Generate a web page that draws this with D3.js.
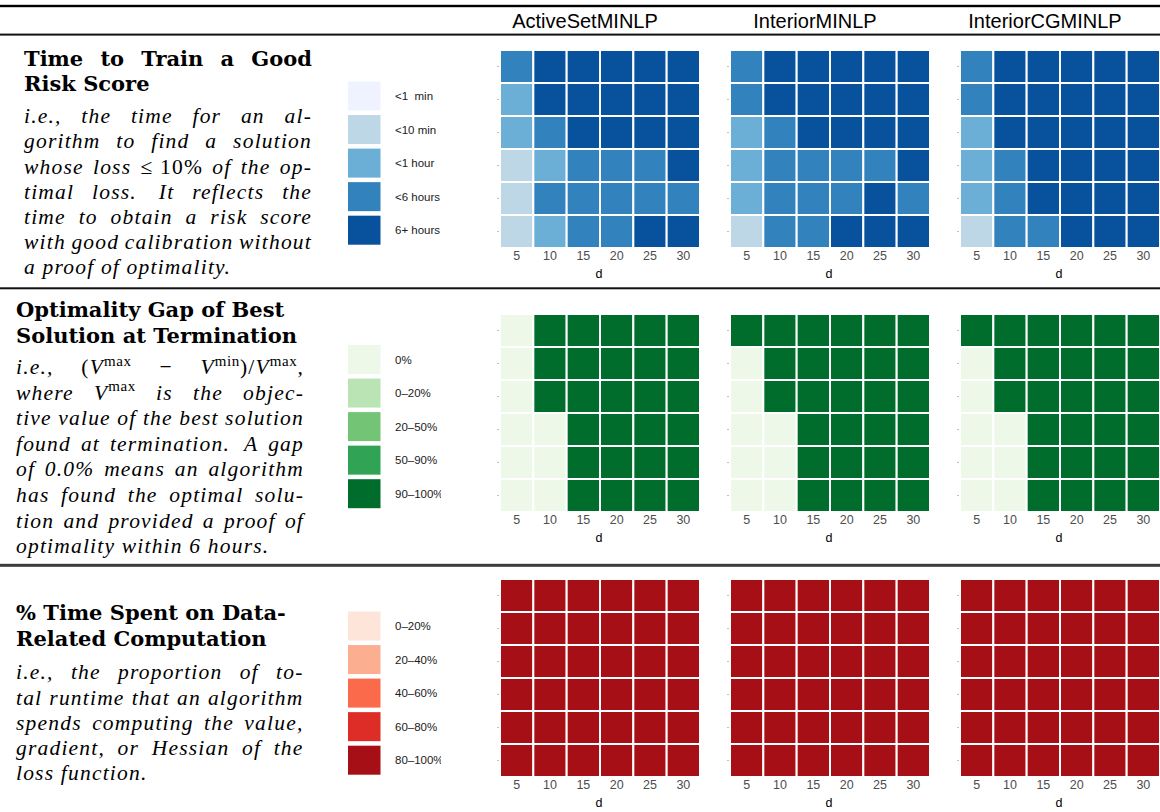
<!DOCTYPE html>
<html><head><meta charset="utf-8">
<script src="https://cdn.jsdelivr.net/npm/d3@7"></script>
<style>
body{margin:0;background:#fff}
.hdr{font-family:"Liberation Sans",Arial,sans-serif;font-size:20px;fill:#000}
.ttl{font-family:"DejaVu Serif",serif;font-weight:bold;font-size:21px;fill:#000}
.bdy{font-family:"Liberation Serif",serif;font-style:italic;font-size:21.5px;letter-spacing:1.2px;fill:#000}
.leg{font-family:"Liberation Sans",Arial,sans-serif;font-size:11.5px;fill:#1a1a1a}
.tick text{font-family:"Liberation Sans",Arial,sans-serif;font-size:12.5px;fill:#4d4d4d}
.xlab{font-family:"Liberation Sans",Arial,sans-serif;font-size:12.5px;fill:#000}
</style>
</head><body>
<svg id="c" width="1160" height="812"></svg>
<script>
// ---------------- DATA ----------------
const methods = ["ActiveSetMINLP", "InteriorMINLP", "InteriorCGMINLP"];
const dValues = [5, 10, 15, 20, 25, 30];
const rowIds = [1, 2, 3, 4, 5, 6];

const timeLabels = ["<1  min", "<10 min", "<1 hour", "<6 hours", "6+ hours"];
const gapLabels = ["0%", "0–20%", "20–50%", "50–90%", "90–100%"];
const dataLabels = ["0–20%", "20–40%", "40–60%", "60–80%", "80–100%"];

const bluesColors = ["#eff3ff", "#bdd7e7", "#6baed6", "#3182bd", "#08519c"];
const greensColors = ["#edf8e9", "#bae4b3", "#74c476", "#31a354", "#006d2c"];
const redsColors = ["#fee5d9", "#fcae91", "#fb6a4a", "#de2d26", "#a50f15"];

// level index (into the label arrays) per row (top to bottom) and d column
const timeActiveSet = [
  [3,4,4,4,4,4],
  [2,4,4,4,4,4],
  [2,3,4,4,4,4],
  [1,2,3,3,3,4],
  [1,3,3,3,3,3],
  [1,2,3,3,4,4]];
const timeInterior = [
  [3,4,4,4,4,4],
  [3,4,4,4,4,4],
  [2,3,4,4,4,4],
  [2,3,3,3,3,4],
  [2,3,3,3,4,3],
  [1,3,3,4,4,4]];
const timeInteriorCG = [
  [3,4,4,4,4,4],
  [3,4,4,4,4,4],
  [2,4,4,4,4,4],
  [2,3,4,4,4,4],
  [2,3,4,4,4,4],
  [1,3,3,4,4,4]];

const gapActiveSet = [
  [0,4,4,4,4,4],
  [0,4,4,4,4,4],
  [0,4,4,4,4,4],
  [0,0,4,4,4,4],
  [0,0,4,4,4,4],
  [0,0,4,4,4,4]];
const gapInterior = [
  [4,4,4,4,4,4],
  [0,4,4,4,4,4],
  [0,4,4,4,4,4],
  [0,0,4,4,4,4],
  [0,0,4,4,4,4],
  [0,0,4,4,4,4]];
const gapInteriorCG = [
  [4,4,4,4,4,4],
  [0,4,4,4,4,4],
  [0,4,4,4,4,4],
  [0,0,4,4,4,4],
  [0,0,4,4,4,4],
  [0,0,4,4,4,4]];

const dataActiveSet = [
  [4,4,4,4,4,4],[4,4,4,4,4,4],[4,4,4,4,4,4],
  [4,4,4,4,4,4],[4,4,4,4,4,4],[4,4,4,4,4,4]];
const dataInterior = [
  [4,4,4,4,4,4],[4,4,4,4,4,4],[4,4,4,4,4,4],
  [4,4,4,4,4,4],[4,4,4,4,4,4],[4,4,4,4,4,4]];
const dataInteriorCG = [
  [4,4,4,4,4,4],[4,4,4,4,4,4],[4,4,4,4,4,4],
  [4,4,4,4,4,4],[4,4,4,4,4,4],[4,4,4,4,4,4]];

// text: [ ] = upright, ^{ } = superscript, ~ = fixed (non-stretching) space; flag = justify
const timeTitle = [["Time to Train a Good", true], ["Risk Score", false]];
const timeBody = [
  ["i.e., the time for an al-", true],
  ["gorithm to find a solution", true],
  ["whose loss [≤]~[10%] of the op-", true],
  ["timal loss. It reflects the", true],
  ["time to obtain a risk score", true],
  ["with good calibration without", true],
  ["a proof of optimality.", false]];
const gapTitle = [["Optimality Gap of Best", false], ["Solution at Termination", false]];
const gapBody = [
  ["i.e., [(]V^{max} [−] V^{min}[)/]V^{max},", true],
  ["where V^{max} is the objec-", true],
  ["tive value of the best solution", true],
  ["found at termination. A gap", true],
  ["of 0.0% means an algorithm", true],
  ["has found the optimal solu-", true],
  ["tion and provided a proof of", true],
  ["optimality within 6 hours.", false]];
const dataTitle = [["% Time Spent on Data-", false], ["Related Computation", false]];
const dataBody = [
  ["i.e., the proportion of to-", true],
  ["tal runtime that an algorithm", true],
  ["spends computing the value,", true],
  ["gradient, or Hessian of the", true],
  ["loss function.", false]];

// ---------------- LAYOUT ----------------
const svg = d3.select("#c");
const panelX = [500, 730, 960];
const panelW = 200, panelH = 198;

const sections = [
  {top: 50, colors: bluesColors, labels: timeLabels, data: [timeActiveSet, timeInterior, timeInteriorCG],
   legTop: 81.5, textL: 24, textR: 312, titleY: [65.7, 90.7], bodyY0: 123.3, bodyDy: 25.1,
   title: timeTitle, body: timeBody},
  {top: 314, colors: greensColors, labels: gapLabels, data: [gapActiveSet, gapInterior, gapInteriorCG],
   legTop: 345, textL: 16, textR: 304, titleY: [316.7, 342.7], bodyY0: 374, bodyDy: 25.6,
   title: gapTitle, body: gapBody},
  {top: 579, colors: redsColors, labels: dataLabels, data: [dataActiveSet, dataInterior, dataInteriorCG],
   legTop: 611.5, textL: 16, textR: 303.5, titleY: [620, 645.7], bodyY0: 679.3, bodyDy: 25.2,
   title: dataTitle, body: dataBody}
];

// rules
svg.append("rect").attr("x",0).attr("y",4.8).attr("width",1160).attr("height",2.4).attr("fill","#000");
svg.append("rect").attr("x",0).attr("y",33.6).attr("width",1160).attr("height",2).attr("fill","#111");
svg.append("rect").attr("x",0).attr("y",287.3).attr("width",1160).attr("height",2).attr("fill","#111");
svg.append("rect").attr("x",0).attr("y",563.8).attr("width",1160).attr("height",3).attr("fill","#3c3c3c");

// headers
methods.forEach((m,i)=>{
  svg.append("text").attr("class","hdr").attr("x",panelX[i]+85).attr("y",28.3)
    .attr("text-anchor","middle").text(m);
});

const x = d3.scaleBand().domain(dValues).range([0, panelW]);
const y = d3.scaleBand().domain(rowIds).range([0, panelH]);

sections.forEach(sec=>{
  sec.data.forEach((mat, pi)=>{
    const g = svg.append("g").attr("transform",`translate(${panelX[pi]},${sec.top})`);
    const cells = [];
    mat.forEach((row, ri)=>row.forEach((v, ci)=>cells.push({r: rowIds[ri], d: dValues[ci], v})));
    g.selectAll("rect").data(cells).join("rect")
      .attr("x", c=>x(c.d)).attr("y", c=>y(c.r))
      .attr("width", x.bandwidth()).attr("height", y.bandwidth())
      .attr("fill", c=>sec.colors[c.v])
      .attr("stroke","#fff").attr("stroke-width",2);
    const xa = g.append("g").attr("transform",`translate(0,${panelH})`)
      .call(d3.axisBottom(x).tickSize(0).tickPadding(3.2));
    xa.select(".domain").remove();
    const ya = g.append("g").attr("transform","translate(-1,0)")
      .call(d3.axisLeft(y).tickSize(2).tickFormat(""));
    ya.select(".domain").remove();
    ya.selectAll("line").attr("stroke","#b0b0b0").attr("stroke-width",0.8);
    g.append("text").attr("class","xlab").attr("x",panelW/2-1).attr("y",panelH+29.7)
      .attr("text-anchor","middle").text("d");
  });

  // legend
  const lg = svg.append("g");
  const ly = d3.scaleBand().domain(d3.range(sec.labels.length)).range([sec.legTop, sec.legTop + 5*33.55]);
  lg.selectAll("rect").data(sec.labels).join("rect")
    .attr("x",348).attr("y",(d,i)=>ly(i)).attr("width",32.5).attr("height",29)
    .attr("fill",(d,i)=>sec.colors[i]);
  const clipId = "clip"+sec.top;
  svg.append("clipPath").attr("id",clipId).append("rect").attr("x",390).attr("y",0).attr("width",51).attr("height",812);
  lg.append("g").attr("clip-path",`url(#${clipId})`).selectAll("text").data(sec.labels).join("text")
    .attr("class","leg").attr("x",395).attr("y",(d,i)=>ly(i)+14.5+4.2)
    .style("white-space","pre").attr("xml:space","preserve").text(d=>d);

  // text blocks
  drawLines(sec.title, "ttl", sec.textL, sec.textR, i=>sec.titleY[i]);
  drawLines(sec.body, "bdy", sec.textL, sec.textR, i=>sec.bodyY0 + i*sec.bodyDy);
});

function parseWord(w){
  const segs=[]; const re=/\[([^\]]*)\]|\^\{([^}]*)\}|([^\[\^]+)/g; let m;
  while((m=re.exec(w))){
    if(m[1]!==undefined) segs.push({t:m[1],s:'r'});
    else if(m[2]!==undefined) segs.push({t:m[2],s:'sup'});
    else segs.push({t:m[3],s:'n'});
  }
  return segs.map(s=>({t:s.t.replace(/~/g,"\u00a0"), s:s.s}));
}

function drawLines(lines, cls, L, R, yOf){
  const g = svg.append("g");
  const sp = g.append("text").attr("class",cls).text("a\u00a0a");
  const spa = g.append("text").attr("class",cls).text("aa");
  const spaceW = sp.node().getComputedTextLength() - spa.node().getComputedTextLength();
  sp.remove(); spa.remove();
  lines.forEach(([str, just], li)=>{
    const words = str.split(/\s+/).filter(w=>w.length);
    const yy = yOf(li);
    const nodes = words.map(w=>{
      const t = g.append("text").attr("class",cls).attr("y",yy);
      let raised=false;
      parseWord(w).forEach(s=>{
        const ts = t.append("tspan").text(s.t);
        if(s.s==='r') ts.attr("font-style","normal");
        if(s.s==='sup'){ ts.attr("font-style","normal").attr("font-size",15).attr("letter-spacing",0.6).attr("dy",-8.5); raised=true; }
        else if(raised){ ts.attr("dy",8.5); raised=false; }
      });
      return t;
    });
    const widths = nodes.map(n=>n.node().getComputedTextLength());
    // sentence-end spaces get a little extra (TeX style)
    const extra = words.map((w,i)=> (i<words.length-1 && /[a-z]\.$/.test(w) && w!=="i.e.") ? 4 : 0);
    const total = d3.sum(widths) + d3.sum(extra);
    let gap = spaceW;
    if(just && words.length>1) gap = (R - L - total)/(words.length-1);
    let cx = L;
    nodes.forEach((n,i)=>{ n.attr("x",cx); cx += widths[i] + gap + extra[i]; });
  });
}
</script>
</body></html>
